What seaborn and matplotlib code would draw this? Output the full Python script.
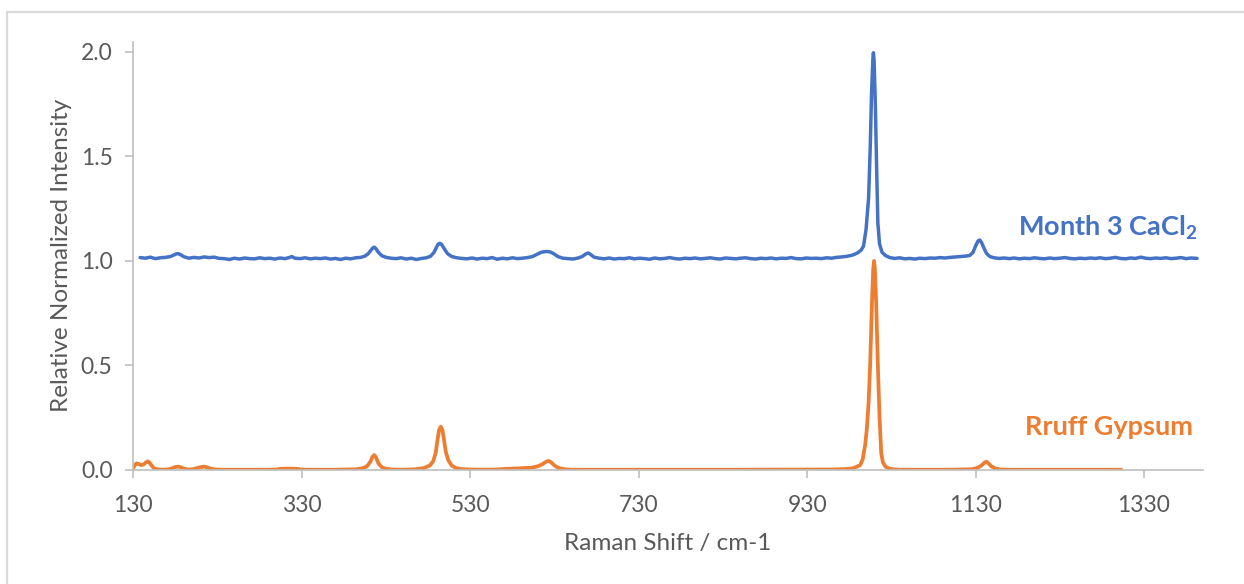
import matplotlib
matplotlib.use("Agg")
import matplotlib.pyplot as plt
from matplotlib.lines import Line2D
import pandas as pd
import seaborn as sns

# Raman spectra as (Raman shift in cm-1, relative normalized intensity) pairs
month3_points = [
    (138, 1.015), (144, 1.012), (150, 1.017), (156, 1.010), (162, 1.014), (168, 1.016),
    (174, 1.020), (178, 1.027), (181, 1.033), (183, 1.034), (186, 1.029), (190, 1.019),
    (196, 1.012), (202, 1.016), (208, 1.013), (214, 1.018), (220, 1.015), (226, 1.017),
    (232, 1.011), (238, 1.010), (244, 1.006), (250, 1.012), (256, 1.008), (262, 1.013),
    (268, 1.010), (274, 1.009), (280, 1.014), (286, 1.010), (292, 1.012), (298, 1.008),
    (304, 1.013), (310, 1.010), (315, 1.015), (318, 1.020), (322, 1.012), (328, 1.010),
    (334, 1.014), (340, 1.009), (346, 1.012), (352, 1.010), (358, 1.013), (364, 1.008),
    (370, 1.011), (376, 1.006), (382, 1.012), (388, 1.009), (394, 1.014), (400, 1.016),
    (405, 1.022), (409, 1.034), (412, 1.050), (414, 1.060), (416, 1.065), (418, 1.058),
    (421, 1.040), (425, 1.024), (430, 1.016), (436, 1.012), (442, 1.010), (448, 1.014),
    (454, 1.008), (460, 1.012), (466, 1.006), (472, 1.011), (478, 1.014), (483, 1.022),
    (487, 1.040), (490, 1.065), (492, 1.080), (494, 1.083), (496, 1.078), (499, 1.058),
    (503, 1.034), (508, 1.020), (514, 1.014), (520, 1.011), (526, 1.009), (532, 1.013),
    (538, 1.008), (544, 1.012), (550, 1.010), (556, 1.015), (562, 1.007), (568, 1.012),
    (574, 1.009), (580, 1.014), (586, 1.010), (592, 1.012), (598, 1.015), (604, 1.020),
    (609, 1.030), (614, 1.040), (618, 1.043), (621, 1.044), (625, 1.042), (629, 1.034),
    (634, 1.020), (640, 1.012), (646, 1.010), (652, 1.008), (658, 1.013), (663, 1.020),
    (667, 1.032), (670, 1.037), (673, 1.030), (677, 1.017), (683, 1.012), (689, 1.009),
    (695, 1.013), (701, 1.008), (707, 1.011), (713, 1.010), (719, 1.014), (725, 1.009),
    (731, 1.012), (737, 1.010), (743, 1.007), (749, 1.013), (755, 1.009), (761, 1.011),
    (767, 1.015), (773, 1.010), (779, 1.008), (785, 1.012), (791, 1.010), (797, 1.013),
    (803, 1.009), (809, 1.011), (815, 1.014), (821, 1.010), (827, 1.008), (833, 1.013),
    (839, 1.011), (845, 1.009), (851, 1.012), (857, 1.014), (863, 1.010), (869, 1.008),
    (875, 1.012), (881, 1.010), (887, 1.013), (893, 1.009), (899, 1.012), (905, 1.011),
    (911, 1.015), (917, 1.010), (923, 1.009), (929, 1.013), (935, 1.011), (941, 1.012),
    (947, 1.010), (953, 1.014), (959, 1.012), (965, 1.016), (971, 1.018), (977, 1.021),
    (982, 1.025), (986, 1.030), (990, 1.038), (994, 1.050), (997, 1.070), (1000, 1.150),
    (1003, 1.300), (1005, 1.550), (1006.5, 1.800), (1008, 1.960), (1008.7, 1.995),
    (1009.5, 1.960), (1011, 1.750), (1012.5, 1.450), (1014, 1.180), (1016, 1.080),
    (1019, 1.040), (1023, 1.025), (1028, 1.015), (1034, 1.011), (1040, 1.014),
    (1046, 1.009), (1052, 1.011), (1058, 1.008), (1064, 1.012), (1070, 1.010),
    (1076, 1.013), (1082, 1.012), (1088, 1.015), (1094, 1.013), (1100, 1.016),
    (1106, 1.018), (1112, 1.020), (1118, 1.022), (1123, 1.025), (1127, 1.040),
    (1130, 1.070), (1133, 1.095), (1135, 1.099), (1137, 1.088), (1140, 1.060),
    (1143, 1.035), (1147, 1.020), (1152, 1.014), (1158, 1.011), (1164, 1.013),
    (1170, 1.010), (1176, 1.013), (1182, 1.009), (1188, 1.012), (1194, 1.010),
    (1200, 1.014), (1206, 1.011), (1212, 1.009), (1218, 1.013), (1224, 1.010),
    (1230, 1.012), (1236, 1.015), (1242, 1.011), (1248, 1.009), (1254, 1.012),
    (1260, 1.010), (1266, 1.013), (1272, 1.011), (1278, 1.014), (1284, 1.010),
    (1290, 1.012), (1296, 1.016), (1302, 1.011), (1308, 1.009), (1314, 1.013),
    (1320, 1.011), (1326, 1.017), (1332, 1.012), (1338, 1.010), (1344, 1.013),
    (1350, 1.011), (1356, 1.014), (1362, 1.010), (1368, 1.012), (1374, 1.015),
    (1380, 1.010), (1386, 1.013), (1393, 1.011),
]

gypsum_points = [
    (130, 0.008), (132, 0.025), (134, 0.030), (136, 0.028), (139, 0.022), (142, 0.025),
    (145, 0.035), (147, 0.040), (149, 0.035), (152, 0.018), (155, 0.006), (158, 0.002),
    (165, 0.000), (172, 0.002), (177, 0.008), (180, 0.013), (183, 0.015), (186, 0.012),
    (190, 0.005), (195, 0.001), (200, 0.002), (205, 0.007), (210, 0.012), (214, 0.015),
    (218, 0.011), (222, 0.005), (227, 0.001), (235, 0.000), (260, 0.000), (290, 0.000),
    (300, 0.001), (304, 0.004), (310, 0.005), (318, 0.005), (325, 0.004), (329, 0.001),
    (335, 0.000), (370, 0.000), (395, 0.002), (402, 0.007), (407, 0.015), (411, 0.035),
    (414, 0.062), (416, 0.070), (418, 0.060), (421, 0.030), (425, 0.012), (430, 0.004),
    (437, 0.001), (450, 0.000), (465, 0.002), (475, 0.008), (482, 0.020), (486, 0.040),
    (489, 0.080), (491, 0.140), (493, 0.190), (495, 0.206), (497, 0.190), (499, 0.140),
    (501, 0.085), (504, 0.045), (508, 0.020), (513, 0.008), (520, 0.003), (530, 0.001),
    (545, 0.000), (560, 0.001), (573, 0.004), (585, 0.006), (595, 0.008), (603, 0.010),
    (610, 0.016), (615, 0.025), (620, 0.038), (623, 0.042), (626, 0.036), (630, 0.020),
    (635, 0.008), (642, 0.002), (650, 0.000), (750, 0.000), (850, 0.000), (960, 0.001),
    (975, 0.003), (985, 0.007), (993, 0.022), (996, 0.050), (999, 0.120), (1001, 0.200),
    (1003, 0.320), (1005, 0.520), (1007, 0.800), (1008.5, 0.960), (1009.5, 0.999),
    (1010.5, 0.960), (1012, 0.800), (1014, 0.500), (1016, 0.250), (1018, 0.080),
    (1020, 0.035), (1023, 0.015), (1027, 0.006), (1032, 0.002), (1040, 0.000),
    (1100, 0.000), (1125, 0.002), (1132, 0.008), (1137, 0.020), (1141, 0.035),
    (1143, 0.038), (1145, 0.032), (1149, 0.015), (1154, 0.005), (1160, 0.001),
    (1170, 0.000), (1250, 0.000), (1303, 0.000),
]

series_names = ["Month 3 CaCl$_\\mathbf{2}$", "Rruff Gypsum"]
series_colors = ["#4472C4", "#ED7D31"]
x_ticks = [130, 330, 530, 730, 930, 1130, 1330]
y_ticks = [0.0, 0.5, 1.0, 1.5, 2.0]

sns.set_theme(style="white")
plt.rcParams["font.family"] = ["Lato", "DejaVu Sans"]
plt.rcParams["mathtext.fontset"] = "custom"
plt.rcParams["mathtext.rm"] = "Lato"
plt.rcParams["mathtext.bf"] = "Lato:bold"

month3 = pd.DataFrame(month3_points, columns=["shift", "intensity"])
gypsum = pd.DataFrame(gypsum_points, columns=["shift", "intensity"])

fig = plt.figure(figsize=(12.44, 5.84), dpi=100)
ax = fig.add_axes([0.1072, 0.1957, 0.8598, 0.7329])

sns.lineplot(data=month3, x="shift", y="intensity", ax=ax, color=series_colors[0],
             lw=2.5, estimator=None, sort=False)
sns.lineplot(data=gypsum, x="shift", y="intensity", ax=ax, color=series_colors[1],
             lw=2.7, estimator=None, sort=False)

ax.set_xlim(130, 1400)
ax.set_ylim(0, 2.048)
ax.set_xticks(x_ticks)
ax.set_yticks(y_ticks)
ax.set_yticklabels([f"{v:.1f}" for v in y_ticks])

grey = "#BFBFBF"
label_grey = "#595959"
for side in ("top", "right"):
    ax.spines[side].set_visible(False)
for side in ("left", "bottom"):
    ax.spines[side].set_color(grey)
    ax.spines[side].set_linewidth(1.2)
ax.tick_params(axis="both", direction="out", length=5.5, width=1.2, color=grey,
               labelcolor=label_grey, labelsize=16.5, left=True, bottom=True)
ax.tick_params(axis="x", pad=13)
ax.tick_params(axis="y", pad=9.5)

ax.set_xlabel("Raman Shift / cm-1", fontsize=17.5, color=label_grey, labelpad=12)
ax.set_ylabel("Relative Normalized Intensity", fontsize=17.5, color=label_grey, labelpad=6.5)

ax.text(1394, 1.157, series_names[0], color=series_colors[0], fontsize=19.5,
        fontweight="bold", ha="right", va="center")
ax.text(1388, 0.204, series_names[1], color=series_colors[1], fontsize=19.5,
        fontweight="bold", ha="right", va="center")

# chart frame (top and left edges)
frame_color = "#D9D9D9"
fig.add_artist(Line2D([0.006, 1.0], [0.9795, 0.9795], color=frame_color, lw=1.6,
                      transform=fig.transFigure))
fig.add_artist(Line2D([0.006, 0.006], [0.0, 0.9795], color=frame_color, lw=1.6,
                      transform=fig.transFigure))

fig.savefig("out.png", dpi=100, facecolor="white")
